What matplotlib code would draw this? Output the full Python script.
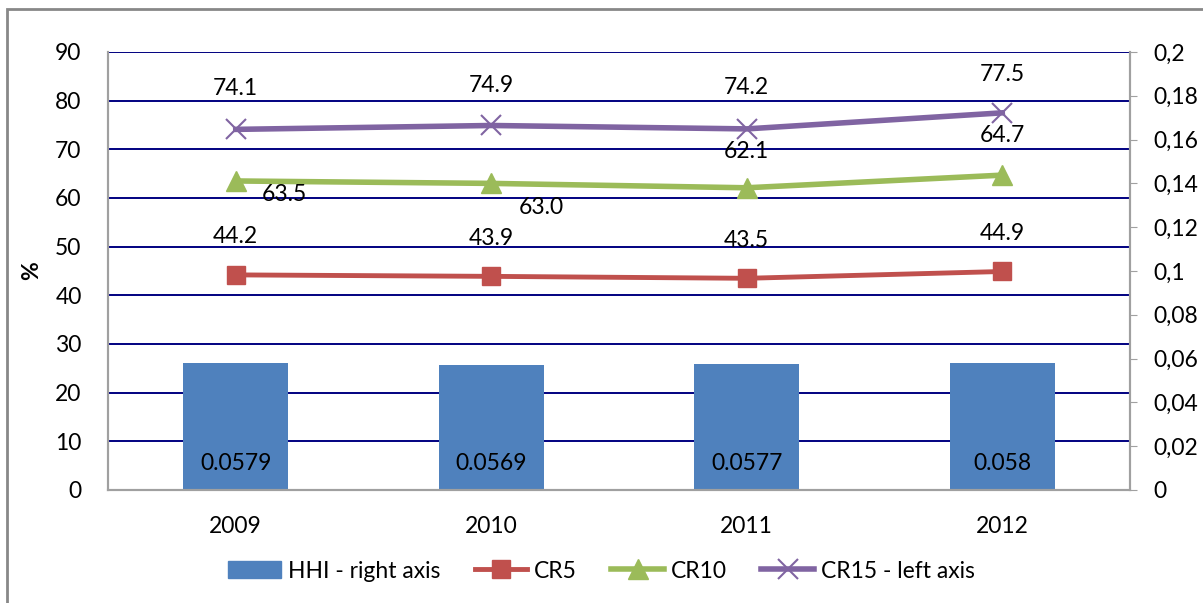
import matplotlib.pyplot as plt
from matplotlib.patches import Rectangle
from matplotlib.transforms import blended_transform_factory

# data
years = ["2009", "2010", "2011", "2012"]
hhi = [0.0579, 0.0569, 0.0577, 0.058]
hhi_labels = ["0.0579", "0.0569", "0.0577", "0.058"]
cr5 = [44.2, 43.9, 43.5, 44.9]
cr10 = [63.5, 63.0, 62.1, 64.7]
cr15 = [74.1, 74.9, 74.2, 77.5]
left_ticks = list(range(0, 91, 10))
right_ticks = [0, 0.02, 0.04, 0.06, 0.08, 0.1, 0.12, 0.14, 0.16, 0.18, 0.2]
right_tick_labels = ["0", "0,02", "0,04", "0,06", "0,08", "0,1", "0,12", "0,14", "0,16", "0,18", "0,2"]

# label offsets in pixels (dx, dy)
cr5_off = [(0, 38), (0, 38), (0, 38), (0, 38)]
cr10_off = [(49, -14), (50, -24), (0, 36), (0, 40)]
cr15_off = [(0, 41), (0, 40), (0, 41), (0, 38)]

blue = "#4F81BD"
red = "#C0504D"
green = "#9BBB59"
purple = "#8064A2"
axis_gray = "#A0A0A0"

plt.rcParams["font.family"] = ["Lato", "DejaVu Sans"]
fs = 16.5

fig = plt.figure(figsize=(12.03, 6.03), dpi=100)
W, H = 1203, 603
left, right, top, bottom = 108, 1130, 52, 490
ax_bar = fig.add_axes([left / W, 1 - bottom / H, (right - left) / W, (bottom - top) / H])
ax = ax_bar.twinx()
# lines axis on the left, bars axis on the right
ax.yaxis.tick_left()
ax.yaxis.set_label_position("left")
ax_bar.yaxis.tick_right()
ax_bar.yaxis.set_label_position("right")

x = list(range(len(years)))

# gridlines follow the left axis but sit behind the bars
grid_tr = blended_transform_factory(ax_bar.transAxes, ax.transData)
ax_bar.hlines(left_ticks[1:], 0, 1, transform=grid_tr, colors="#000080", linewidth=1.4, zorder=0.5)

# bars (right axis)
ax_bar.bar(x, hhi, width=0.41, color=blue, zorder=2)
for xi, lab in zip(x, hhi_labels):
    ax_bar.annotate(lab, (xi, 0), xytext=(0, 27), textcoords="offset pixels",
                    ha="center", va="center", fontsize=fs, color="black", zorder=3)
ax_bar.set_ylim(0, 0.2)
ax_bar.set_yticks(right_ticks)
ax_bar.set_yticklabels(right_tick_labels, fontsize=fs)
ax_bar.tick_params(axis="y", which="both", direction="out", length=5, color=axis_gray, pad=12)
ax_bar.tick_params(axis="x", length=0, pad=19, labelsize=fs)
ax_bar.set_xticks(x)
ax_bar.set_xticklabels(years)
ax_bar.set_xlim(-0.5, 3.5)

# lines (left axis)
ax.set_zorder(ax_bar.get_zorder() + 1)
ax.patch.set_visible(False)
ax.plot(x, cr5, color=red, linewidth=3.5, marker="s", markersize=13, label="CR5")
ax.plot(x, cr10, color=green, linewidth=4, marker="^", markersize=14, label="CR10")
ax.plot(x, cr15, color=purple, linewidth=4, marker="x", markersize=14,
        markeredgewidth=1.5, label="CR15 - left axis")
for vals, offs in [(cr5, cr5_off), (cr10, cr10_off), (cr15, cr15_off)]:
    for xi, v, (dx, dy) in zip(x, vals, offs):
        ax.annotate(f"{v:.1f}", (xi, v), xytext=(dx, dy), textcoords="offset pixels",
                    ha="center", va="center", fontsize=fs, color="black")
ax.set_ylim(0, 90)
ax.set_yticks(left_ticks)
ax.tick_params(axis="y", length=0, labelsize=fs, pad=19)
ax.set_ylabel("%", fontsize=fs, fontweight="bold", labelpad=9)
ax.set_xlim(-0.5, 3.5)

for a in (ax, ax_bar):
    a.spines["top"].set_visible(False)
    for s in ("left", "right", "bottom"):
        a.spines[s].set_color(axis_gray)
        a.spines[s].set_linewidth(1.5)

# legend
handles = [Rectangle((0, 0), 1, 1, color=blue)] + ax.get_lines()
labels = ["HHI - right axis", "CR5", "CR10", "CR15 - left axis"]
fig.legend(handles, labels, loc="center", bbox_to_anchor=(0.5, 1 - 571 / H), ncol=4,
           frameon=False, fontsize=fs, handlelength=2.3, handletextpad=0.3, columnspacing=1.5)

# outer chart frame
fig.patches.append(Rectangle((7 / W, -0.05), 1.1, 1 - 9 / H + 0.05, transform=fig.transFigure,
                             fill=False, edgecolor="#888888", linewidth=2))

fig.savefig("out.png", dpi=100)
